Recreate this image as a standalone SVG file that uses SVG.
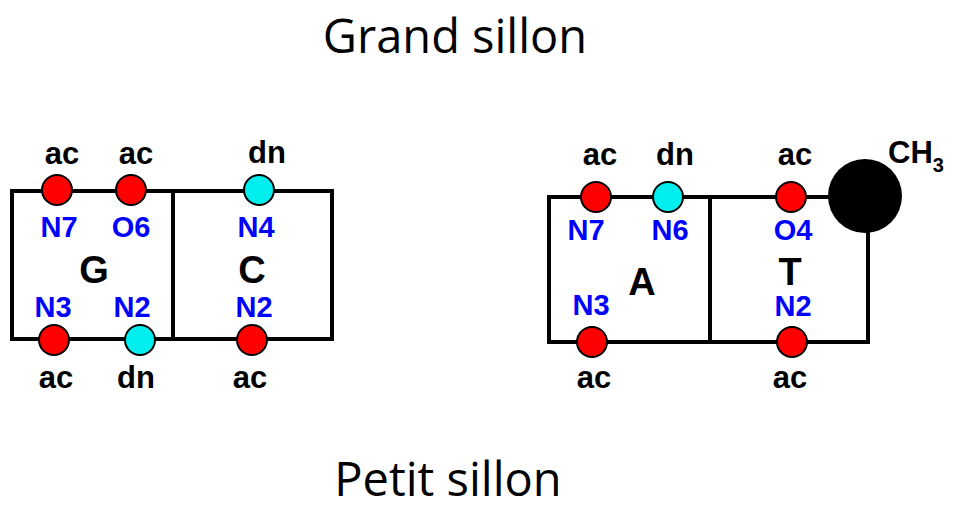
<svg xmlns="http://www.w3.org/2000/svg" width="958" height="510" viewBox="0 0 958 510">
<style>
.box{fill:none;stroke:#000;stroke-width:4;stroke-linejoin:miter}
.line{stroke:#000;stroke-width:4;fill:none}
.ac{fill:#ff0000;stroke:#000;stroke-width:2}
.dn{fill:#00eeee;stroke:#000;stroke-width:2}
.lab{font-family:"Liberation Sans",Arial,sans-serif;font-weight:bold;font-size:31px;fill:#000;text-anchor:middle}
.atom{font-family:"Liberation Sans",Arial,sans-serif;font-weight:bold;font-size:29px;fill:#0000ff;text-anchor:middle}
.base{font-family:"Liberation Sans",Arial,sans-serif;font-weight:bold;font-size:38px;fill:#000;text-anchor:middle}
.title{font-family:"Open Sans","DejaVu Sans",sans-serif;font-size:47px;fill:#000;text-anchor:middle}
</style>
<text class="title" x="455" y="53">Grand sillon</text>
<text class="title" x="448" y="496" font-size="45">Petit sillon</text>
<g id="connectors">
<rect class="box" x="12" y="191" width="161" height="148"/>
<rect class="box" x="173" y="191" width="159" height="148"/>
<rect class="box" x="549" y="197" width="161" height="145"/>
<polyline class="line" points="710,197 868,197 868,342 710,342"/>
</g>
<g id="G">
<circle class="ac" cx="57" cy="190" r="15"/>
<circle class="ac" cx="131" cy="190" r="15"/>
<circle class="ac" cx="54" cy="340" r="15"/>
<circle class="dn" cx="140" cy="340" r="15"/>
<text class="lab" x="62" y="164">ac</text>
<text class="lab" x="136" y="164">ac</text>
<text class="atom" x="59" y="237">N7</text>
<text class="atom" x="131" y="237">O6</text>
<text class="base" x="94" y="283">G</text>
<text class="atom" x="53" y="317">N3</text>
<text class="atom" x="132" y="317">N2</text>
<text class="lab" x="56" y="388">ac</text>
<text class="lab" x="136" y="388">dn</text>
</g>
<g id="C">
<circle class="dn" cx="259" cy="190" r="15"/>
<text class="lab" x="267" y="163">dn</text>
<text class="atom" x="256" y="237">N4</text>
<text class="base" x="252" y="283">C</text>
<circle class="ac" cx="252" cy="340" r="15"/>
<text class="atom" x="254" y="317">N2</text>
<text class="lab" x="250" y="388">ac</text>
</g>
<g id="A">
<circle class="ac" cx="596" cy="197" r="15"/>
<circle class="dn" cx="668" cy="197" r="15"/>
<circle class="ac" cx="592" cy="342" r="15"/>
<text class="lab" x="600" y="165">ac</text>
<text class="lab" x="675" y="165">dn</text>
<text class="atom" x="586" y="240">N7</text>
<text class="atom" x="670" y="240">N6</text>
<text class="base" x="642" y="295">A</text>
<text class="atom" x="591" y="315">N3</text>
<text class="lab" x="594" y="388">ac</text>
</g>
<g id="T">
<circle cx="865" cy="196" r="37" fill="#000"/>
<circle class="ac" cx="791" cy="197" r="15"/>
<circle class="ac" cx="792" cy="342" r="15"/>
<text class="lab" x="795" y="165">ac</text>
<text class="atom" x="793" y="240">O4</text>
<text class="base" x="790" y="285">T</text>
<text class="atom" x="793" y="316">N2</text>
<text class="lab" x="790" y="388">ac</text>
<text class="lab" x="916" y="163">CH<tspan font-size="20" dy="9">3</tspan></text>
</g>
</svg>
